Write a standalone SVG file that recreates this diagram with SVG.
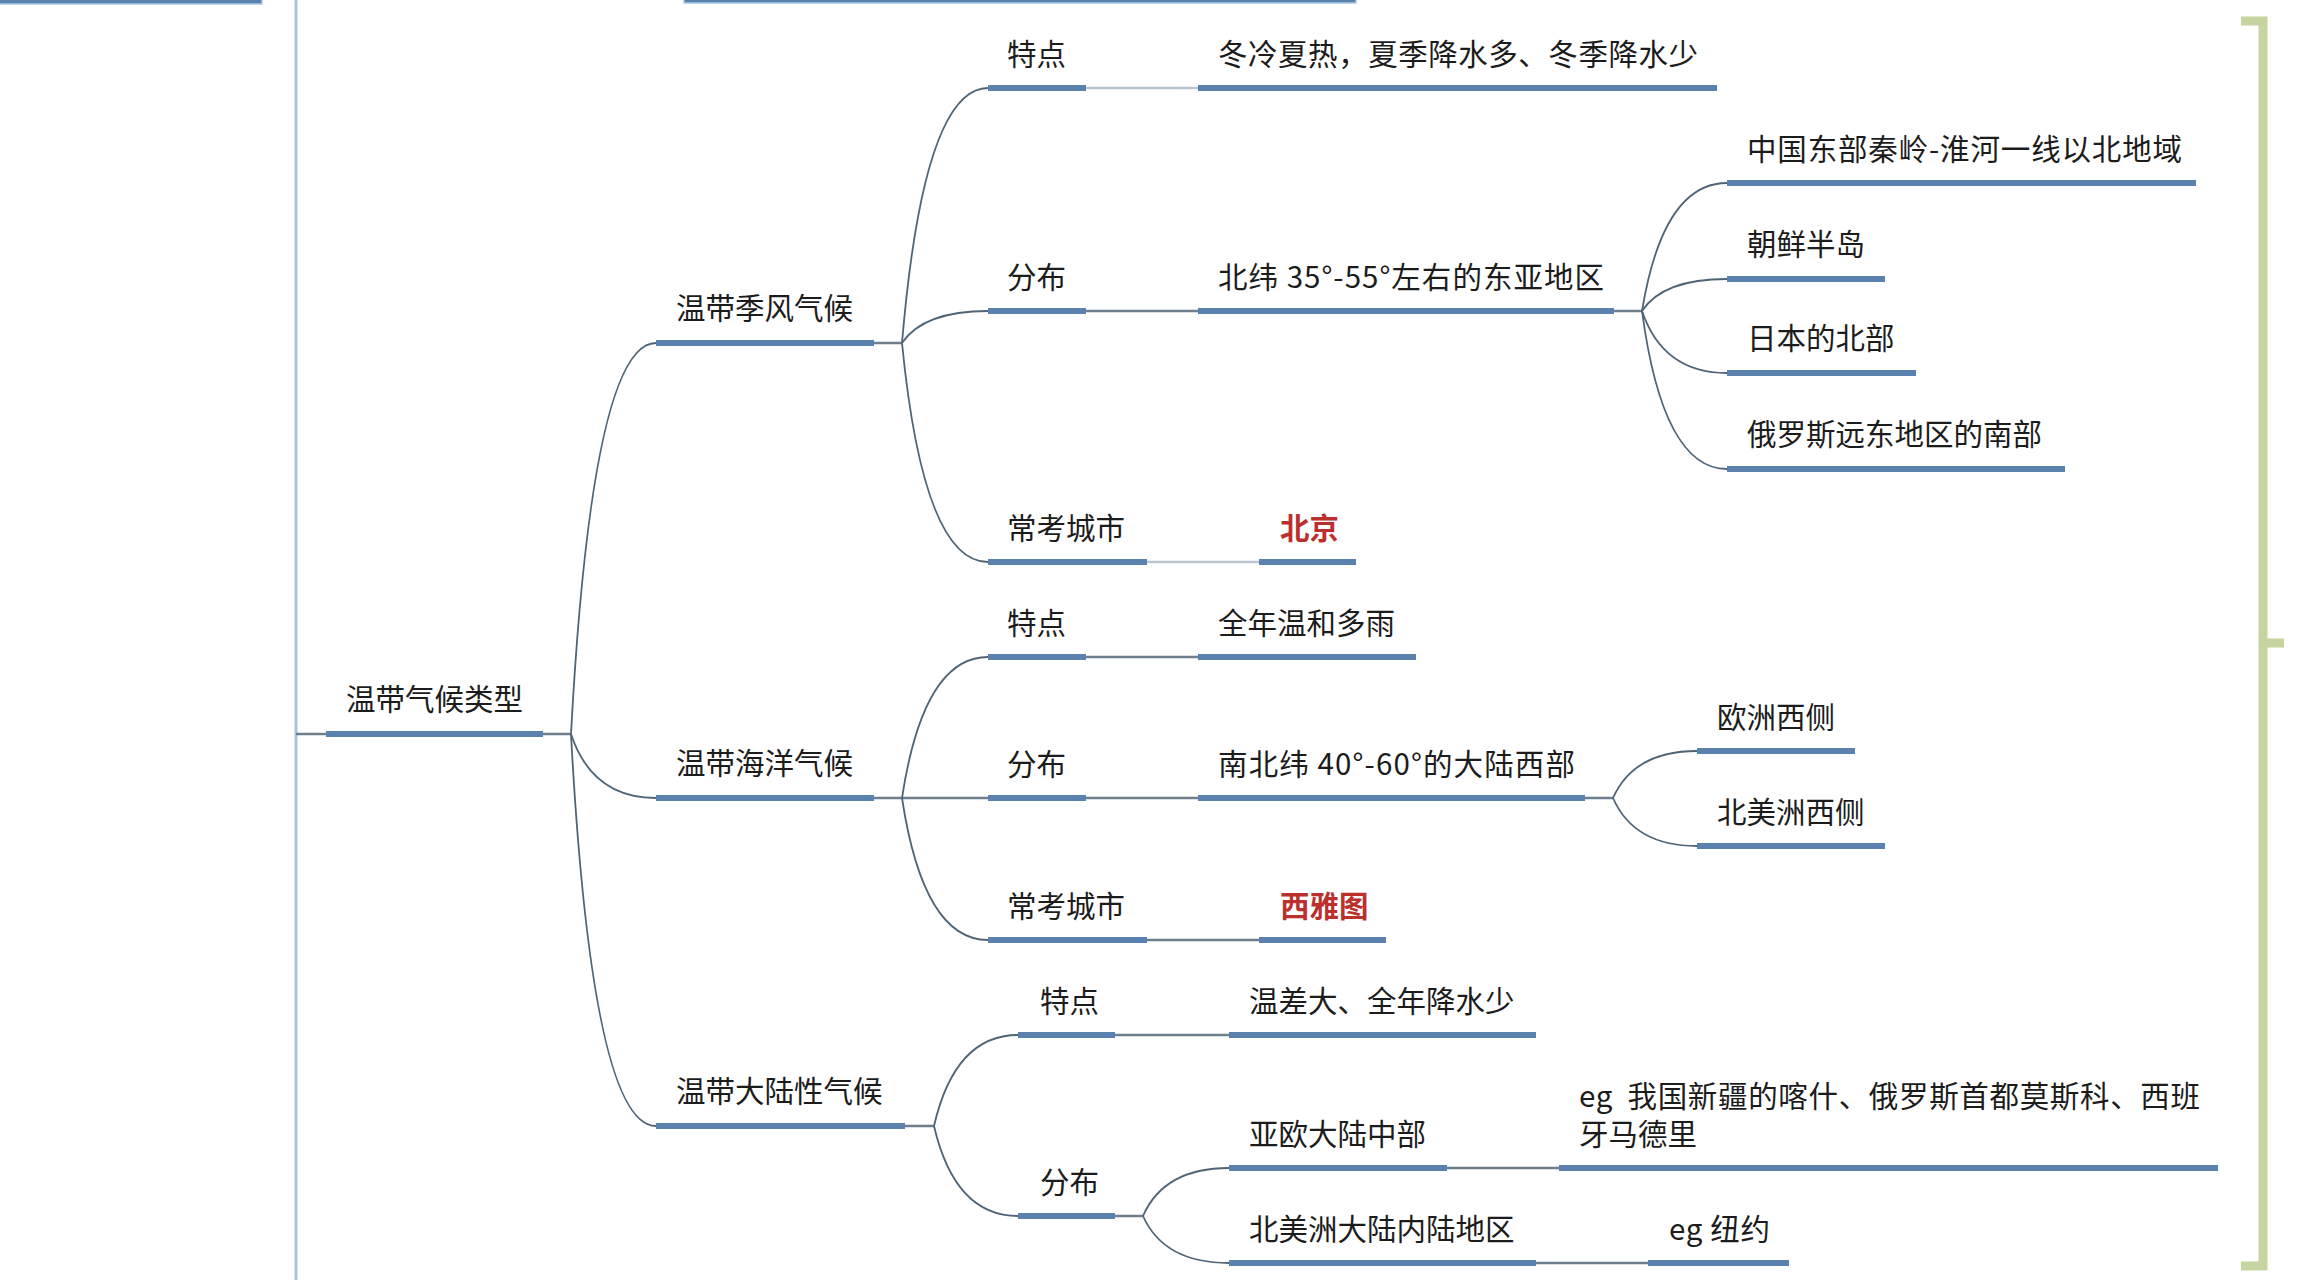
<svg xmlns="http://www.w3.org/2000/svg" width="2301" height="1280" viewBox="0 0 2301 1280">
<style>
.t{font-family:"Noto Sans CJK SC","Noto Sans",sans-serif;font-size:29.5px;fill:#1c1c1c}
.red{fill:#bb2f2c;font-weight:bold}
.bar{stroke:#5b82ae;stroke-width:6;fill:none}
.cv{fill:none;stroke:#4f6577;stroke-width:1.8}
.ln{stroke:#6d7e8c;stroke-width:2.5;fill:none}
.lt{stroke:#b9c6cf;stroke-width:2.5;fill:none}
.br{fill:none;stroke:#c6d4a0;stroke-width:9}
</style>
<rect width="2301" height="1280" fill="#ffffff"/>
<g id="frame">
<line x1="296" y1="0" x2="296" y2="1280" stroke="#a6c4dc" stroke-width="3"/>
<rect x="-3" y="-4" width="265" height="8" fill="#5b82ae" stroke="#a9c8e6" stroke-width="1.5"/>
<rect x="684" y="-4" width="672" height="7" fill="#5b82ae" stroke="#a9c8e6" stroke-width="1.5"/>
<path class="br" d="M2241 21 H2263 V1266 H2241 M2263 643 H2284"/>
</g>
<g id="connectors">
<line class="ln" x1="296" y1="734" x2="326" y2="734"/>
<line class="ln" x1="543" y1="734" x2="571" y2="734"/>
<path class="cv" d="M571 734 Q592 343 656 343"/>
<path class="cv" d="M571 734 Q592 798 656 798"/>
<path class="cv" d="M571 734 Q592 1126 656 1126"/>
<line class="ln" x1="874" y1="343" x2="902" y2="343"/>
<line class="ln" x1="874" y1="798" x2="988" y2="798"/>
<line class="ln" x1="905" y1="1126" x2="934" y2="1126"/>
<path class="cv" d="M902 343 Q923.5 88 988 88"/>
<path class="cv" d="M902 343 Q923.5 311 988 311"/>
<path class="cv" d="M902 343 Q923.5 562 988 562"/>
<line class="lt" x1="1086" y1="88" x2="1198" y2="88"/>
<line class="ln" x1="1086" y1="311" x2="1198" y2="311"/>
<line class="lt" x1="1147" y1="562" x2="1259" y2="562"/>
<line class="ln" x1="1614" y1="311" x2="1642" y2="311"/>
<path class="cv" d="M1642 311 Q1663 183 1727 183"/>
<path class="cv" d="M1642 311 Q1663 279 1727 279"/>
<path class="cv" d="M1642 311 Q1663 373 1727 373"/>
<path class="cv" d="M1642 311 Q1663 469 1727 469"/>
<path class="cv" d="M902 798 Q923.5 657 988 657"/>
<path class="cv" d="M902 798 Q923.5 940 988 940"/>
<line class="ln" x1="1086" y1="657" x2="1198" y2="657"/>
<line class="ln" x1="1086" y1="798" x2="1198" y2="798"/>
<line class="ln" x1="1147" y1="940" x2="1259" y2="940"/>
<line class="ln" x1="1585" y1="798" x2="1613" y2="798"/>
<path class="cv" d="M1613 798 Q1634 751 1697 751"/>
<path class="cv" d="M1613 798 Q1634 846 1697 846"/>
<path class="cv" d="M934 1126 Q955 1035 1018 1035"/>
<path class="cv" d="M934 1126 Q955 1216 1018 1216"/>
<line class="ln" x1="1115" y1="1035" x2="1229" y2="1035"/>
<line class="ln" x1="1115" y1="1216" x2="1143" y2="1216"/>
<path class="cv" d="M1143 1216 Q1164 1168 1229 1168"/>
<path class="cv" d="M1143 1216 Q1164 1263 1229 1263"/>
<line class="ln" x1="1447" y1="1168" x2="1559" y2="1168"/>
<line class="ln" x1="1536" y1="1263" x2="1648" y2="1263"/>
</g>
<g id="root"><line class="bar" x1="326" y1="734" x2="543" y2="734"/><text class="t" x="346" y="710">温带气候类型</text></g>
<g id="n-a"><line class="bar" x1="656" y1="343" x2="874" y2="343"/><text class="t" x="676" y="319">温带季风气候</text></g>
<g id="n-b"><line class="bar" x1="656" y1="798" x2="874" y2="798"/><text class="t" x="676" y="774">温带海洋气候</text></g>
<g id="n-c"><line class="bar" x1="656" y1="1126" x2="905" y2="1126"/><text class="t" x="676" y="1102">温带大陆性气候</text></g>
<g id="n-a1"><line class="bar" x1="988" y1="88" x2="1086" y2="88"/><text class="t" x="1007" y="65">特点</text></g>
<g id="n-a1v"><line class="bar" x1="1198" y1="88" x2="1717" y2="88"/><text class="t" x="1218" y="65" textLength="480" lengthAdjust="spacing">冬冷夏热，夏季降水多、冬季降水少</text></g>
<g id="n-a2"><line class="bar" x1="988" y1="311" x2="1086" y2="311"/><text class="t" x="1007" y="288">分布</text></g>
<g id="n-a2v"><line class="bar" x1="1198" y1="311" x2="1614" y2="311"/><text class="t" x="1218" y="288" textLength="386" lengthAdjust="spacing">北纬 35°-55°左右的东亚地区</text></g>
<g id="n-a21"><line class="bar" x1="1727" y1="183" x2="2196" y2="183"/><text class="t" x="1747" y="160" textLength="435" lengthAdjust="spacing">中国东部秦岭-淮河一线以北地域</text></g>
<g id="n-a22"><line class="bar" x1="1727" y1="279" x2="1885" y2="279"/><text class="t" x="1747" y="255">朝鲜半岛</text></g>
<g id="n-a23"><line class="bar" x1="1727" y1="373" x2="1916" y2="373"/><text class="t" x="1747" y="349">日本的北部</text></g>
<g id="n-a24"><line class="bar" x1="1727" y1="469" x2="2065" y2="469"/><text class="t" x="1747" y="445">俄罗斯远东地区的南部</text></g>
<g id="n-a3"><line class="bar" x1="988" y1="562" x2="1147" y2="562"/><text class="t" x="1007" y="539">常考城市</text></g>
<g id="n-a3v"><line class="bar" x1="1259" y1="562" x2="1356" y2="562"/><text class="t red" x="1280" y="539">北京</text></g>
<g id="n-b1"><line class="bar" x1="988" y1="657" x2="1086" y2="657"/><text class="t" x="1007" y="634">特点</text></g>
<g id="n-b1v"><line class="bar" x1="1198" y1="657" x2="1416" y2="657"/><text class="t" x="1218" y="634">全年温和多雨</text></g>
<g id="n-b2"><line class="bar" x1="988" y1="798" x2="1086" y2="798"/><text class="t" x="1007" y="775">分布</text></g>
<g id="n-b2v"><line class="bar" x1="1198" y1="798" x2="1585" y2="798"/><text class="t" x="1218" y="775" textLength="357" lengthAdjust="spacing">南北纬 40°-60°的大陆西部</text></g>
<g id="n-b21"><line class="bar" x1="1697" y1="751" x2="1855" y2="751"/><text class="t" x="1717" y="728">欧洲西侧</text></g>
<g id="n-b22"><line class="bar" x1="1697" y1="846" x2="1885" y2="846"/><text class="t" x="1717" y="823">北美洲西侧</text></g>
<g id="n-b3"><line class="bar" x1="988" y1="940" x2="1147" y2="940"/><text class="t" x="1007" y="917">常考城市</text></g>
<g id="n-b3v"><line class="bar" x1="1259" y1="940" x2="1386" y2="940"/><text class="t red" x="1280" y="917">西雅图</text></g>
<g id="n-c1"><line class="bar" x1="1018" y1="1035" x2="1115" y2="1035"/><text class="t" x="1040" y="1012">特点</text></g>
<g id="n-c1v"><line class="bar" x1="1229" y1="1035" x2="1536" y2="1035"/><text class="t" x="1249" y="1012">温差大、全年降水少</text></g>
<g id="n-c2"><line class="bar" x1="1018" y1="1216" x2="1115" y2="1216"/><text class="t" x="1040" y="1193">分布</text></g>
<g id="n-c21"><line class="bar" x1="1229" y1="1168" x2="1447" y2="1168"/><text class="t" x="1249" y="1145">亚欧大陆中部</text></g>
<g id="n-c21v"><line class="bar" x1="1559" y1="1168" x2="2218" y2="1168"/><text class="t" x="1579" y="1107" xml:space="preserve" textLength="621" lengthAdjust="spacing">eg  我国新疆的喀什、俄罗斯首都莫斯科、西班</text><text class="t" x="1579" y="1145">牙马德里</text></g>
<g id="n-c22"><line class="bar" x1="1229" y1="1263" x2="1536" y2="1263"/><text class="t" x="1249" y="1240">北美洲大陆内陆地区</text></g>
<g id="n-c22v"><line class="bar" x1="1648" y1="1263" x2="1789" y2="1263"/><text class="t" x="1669" y="1240" textLength="101" lengthAdjust="spacing">eg 纽约</text></g>
</svg>
